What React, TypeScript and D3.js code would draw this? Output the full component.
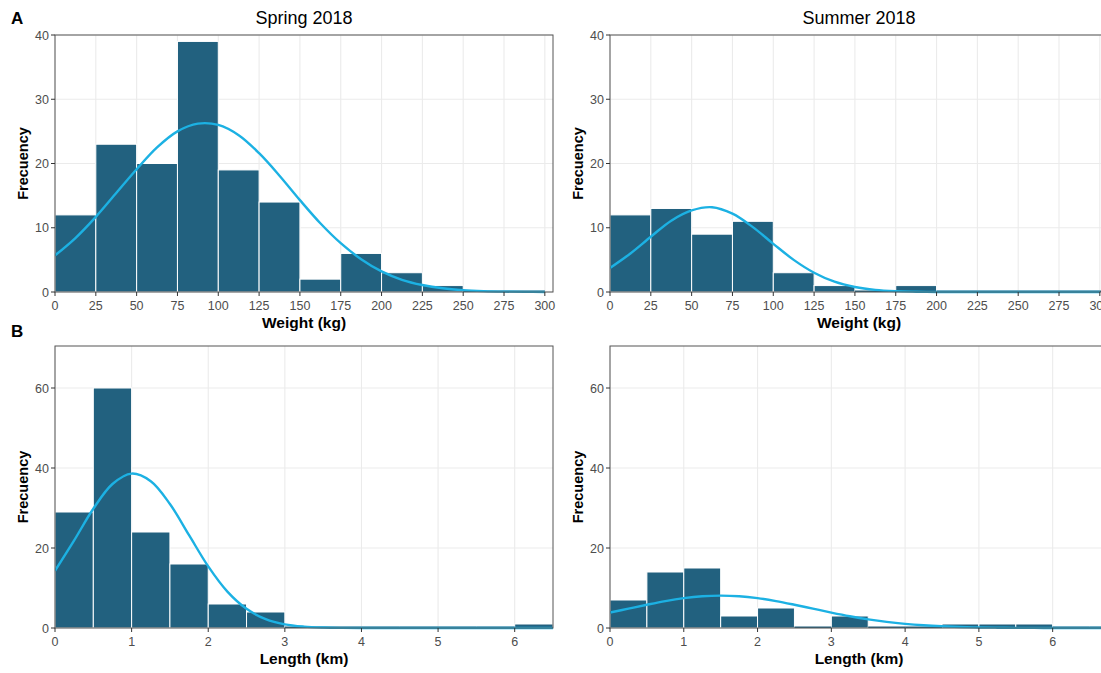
import React, { useEffect, useRef } from "react";
import * as d3 from "d3";

// histogram counts (bin width 25 kg / 0.5 km, starting at 0)
const springWeightCounts = [12, 23, 20, 39, 19, 14, 2, 6, 3, 1, 0, 0];
const summerWeightCounts = [12, 13, 9, 11, 3, 1, 0, 1, 0, 0, 0, 0, 0];
const springLengthCounts = [29, 60, 24, 16, 6, 4, 0, 0, 0, 0, 0, 0, 1];
const summerLengthCounts = [7, 14, 15, 3, 5, 0, 3, 0, 0, 1, 1, 1, 0, 0];

// fitted normal curves
const weightCurveX = [0, 12.5, 25, 37.5, 50, 62.5, 75, 87.5, 100, 112.5, 125, 137.5, 150, 162.5, 175, 187.5, 200, 212.5, 225, 237.5, 250, 262.5, 275, 287.5, 300];
const springWeightCurve = [5.7, 8.4, 11.7, 15.4, 19.1, 22.5, 25.0, 26.2, 26.0, 24.4, 21.6, 18.1, 14.3, 10.7, 7.6, 5.1, 3.2, 1.9, 1.09, 0.58, 0.29, 0.14, 0.06, 0.02, 0.01];
const summerWeightCurve = [3.75, 6.0, 8.6, 11.1, 12.7, 13.2, 12.2, 10.1, 7.5, 5.0, 3.0, 1.6, 0.78, 0.33, 0.13, 0.05, 0.01, 0, 0, 0, 0, 0, 0, 0, 0];

const lengthCurveX = [0, 0.25, 0.5, 0.75, 1, 1.25, 1.5, 1.75, 2, 2.25, 2.5, 2.75, 3, 3.25, 3.5, 3.75, 4, 4.25, 4.5, 4.75, 5, 5.25, 5.5, 5.75, 6, 6.25, 6.5, 6.75];
const springLengthCurve = [14.3, 21.9, 29.8, 36.0, 38.6, 36.7, 31.0, 23.2, 15.4, 9.1, 4.8, 2.2, 0.9, 0.34, 0.11, 0.03, 0.01, 0, 0, 0, 0, 0, 0, 0, 0, 0, 0, 0];
const summerLengthCurve = [3.86, 4.84, 5.82, 6.73, 7.46, 7.94, 8.1, 7.94, 7.46, 6.73, 5.82, 4.84, 3.86, 2.95, 2.16, 1.52, 1.03, 0.67, 0.42, 0.25, 0.14, 0.08, 0.04, 0.02, 0.01, 0, 0, 0];

const weightTicks = [0, 25, 50, 75, 100, 125, 150, 175, 200, 225, 250, 275, 300];
const lengthTicks = [0, 1, 2, 3, 4, 5, 6];
const weightYTicks = [0, 10, 20, 30, 40];
const lengthYTicks = [0, 20, 40, 60];

const FONT = "'Liberation Sans', Arial, Helvetica, sans-serif";
const BAR = "#22617f";
const CURVE = "#1cb1e3";

const panels = [
  { id: "sw", left: 55, top: 35, width: 498, height: 257, xMax: 305, yMax: 40, counts: springWeightCounts, bw: 25, cx: weightCurveX, cy: springWeightCurve, xTicks: weightTicks, yTicks: weightYTicks, xTitle: "Weight (kg)", title: "Spring 2018" },
  { id: "uw", left: 610, top: 35, width: 498, height: 257, xMax: 305, yMax: 40, counts: summerWeightCounts, bw: 25, cx: weightCurveX, cy: summerWeightCurve, xTicks: weightTicks, yTicks: weightYTicks, xTitle: "Weight (kg)", title: "Summer 2018" },
  { id: "sl", left: 55, top: 346, width: 498, height: 282, xMax: 6.5, yMax: 70.5, counts: springLengthCounts, bw: 0.5, cx: lengthCurveX, cy: springLengthCurve, xTicks: lengthTicks, yTicks: lengthYTicks, xTitle: "Length (km)", title: "" },
  { id: "ul", left: 610, top: 346, width: 498, height: 282, xMax: 6.75, yMax: 70.5, counts: summerLengthCounts, bw: 0.5, cx: lengthCurveX, cy: summerLengthCurve, xTicks: lengthTicks, yTicks: lengthYTicks, xTitle: "Length (km)", title: "" },
];

const App = () => {
  const svgRef = useRef<SVGSVGElement>(null);

  useEffect(() => {
    const svg = d3.select(svgRef.current);
    svg.selectAll("*").remove();

    svg.append("rect").attr("width", 1101).attr("height", 673).attr("fill", "#fff");

    panels.forEach(p => {
      const x = d3.scaleLinear().domain([0, p.xMax]).range([p.left, p.left + p.width]);
      const y = d3.scaleLinear().domain([0, p.yMax]).range([p.top + p.height, p.top]);

      const clipId = "clip-" + p.id;
      svg.append("clipPath").attr("id", clipId)
        .append("rect").attr("x", p.left).attr("y", p.top - 2).attr("width", p.width).attr("height", p.height + 4);

      const g = svg.append("g");

      // grid
      g.selectAll(".gx").data(p.xTicks).join("line")
        .attr("x1", d => x(d)).attr("x2", d => x(d))
        .attr("y1", p.top).attr("y2", p.top + p.height)
        .attr("stroke", "#ebebeb").attr("stroke-width", 1.1);
      g.selectAll(".gy").data(p.yTicks).join("line")
        .attr("x1", p.left).attr("x2", p.left + p.width)
        .attr("y1", d => y(d)).attr("y2", d => y(d))
        .attr("stroke", "#ebebeb").attr("stroke-width", 1.1);

      const plot = g.append("g").attr("clip-path", `url(#${clipId})`);

      // bars
      const bins = p.counts.map((c, i) => ({ x0: i * p.bw, x1: (i + 1) * p.bw, c }));
      plot.selectAll("rect.bar").data(bins.filter(b => b.c > 0)).join("rect")
        .attr("class", "bar")
        .attr("x", d => x(d.x0)).attr("width", d => x(d.x1) - x(d.x0))
        .attr("y", d => y(d.c)).attr("height", d => y(0) - y(d.c))
        .attr("fill", BAR).attr("stroke", "#fff").attr("stroke-width", 1);
      plot.selectAll("line.zero").data(bins.filter(b => b.c === 0)).join("line")
        .attr("class", "zero")
        .attr("x1", d => x(d.x0)).attr("x2", d => x(d.x1))
        .attr("y1", y(0) - 0.8).attr("y2", y(0) - 0.8)
        .attr("stroke", BAR).attr("stroke-width", 1.6);

      // normal curve
      const line = d3.line<number>()
        .x((_, i) => x(p.cx[i]))
        .y(d => y(d))
        .curve(d3.curveCatmullRom);
      plot.append("path").datum(p.cy).attr("d", line)
        .attr("fill", "none").attr("stroke", CURVE).attr("stroke-width", 2.4);

      // border
      g.append("rect").attr("x", p.left).attr("y", p.top).attr("width", p.width).attr("height", p.height)
        .attr("fill", "none").attr("stroke", "#555").attr("stroke-width", 1);

      // ticks
      g.selectAll(".tx").data(p.xTicks).join("line")
        .attr("x1", d => x(d)).attr("x2", d => x(d))
        .attr("y1", p.top + p.height).attr("y2", p.top + p.height + 4)
        .attr("stroke", "#333");
      g.selectAll(".tlx").data(p.xTicks).join("text")
        .attr("x", d => x(d)).attr("y", p.top + p.height + 17.5)
        .attr("text-anchor", "middle").attr("font-family", FONT).attr("font-size", 12.5).attr("fill", "#4d4d4d")
        .text(d => String(d));
      g.selectAll(".ty").data(p.yTicks).join("line")
        .attr("x1", p.left - 4).attr("x2", p.left)
        .attr("y1", d => y(d)).attr("y2", d => y(d))
        .attr("stroke", "#333");
      g.selectAll(".tly").data(p.yTicks).join("text")
        .attr("x", p.left - 6).attr("y", d => y(d) + 4.5)
        .attr("text-anchor", "end").attr("font-family", FONT).attr("font-size", 12.5).attr("fill", "#4d4d4d")
        .text(d => String(d));

      // titles
      const mid = p.left + 249;
      g.append("text").attr("x", mid).attr("y", p.top + p.height + 36)
        .attr("text-anchor", "middle").attr("font-family", FONT).attr("font-size", 15.5).attr("font-weight", "bold")
        .text(p.xTitle);
      g.append("text")
        .attr("transform", `translate(${p.left - 27},${p.top + p.height / 2}) rotate(-90)`)
        .attr("text-anchor", "middle").attr("font-family", FONT).attr("font-size", 14.5).attr("font-weight", "bold")
        .text("Frecuency");
      if (p.title) {
        g.append("text").attr("x", mid).attr("y", 24)
          .attr("text-anchor", "middle").attr("font-family", FONT).attr("font-size", 18)
          .text(p.title);
      }
    });

    svg.append("text").attr("x", 11).attr("y", 24).attr("font-family", FONT).attr("font-size", 17).attr("font-weight", "bold").text("A");
    svg.append("text").attr("x", 11).attr("y", 337).attr("font-family", FONT).attr("font-size", 17).attr("font-weight", "bold").text("B");
  }, []);

  return (
    <svg ref={svgRef} width={1101} height={673} style={{ position: "absolute", left: 0, top: 0, display: "block" }} />
  );
};

export default App;
